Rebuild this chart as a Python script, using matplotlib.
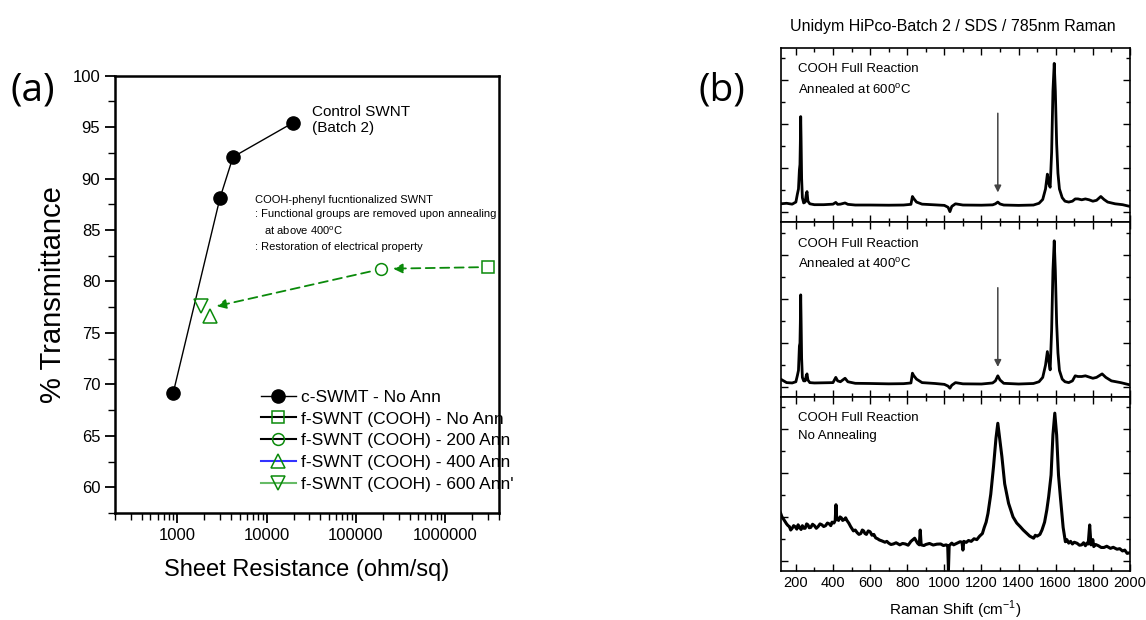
import matplotlib
matplotlib.use('Agg')
import matplotlib.pyplot as plt
from matplotlib.ticker import FixedLocator, MultipleLocator, NullFormatter

# ---- panel (a): transmittance vs sheet resistance ----
ctrl_rs = [900, 3000, 4200, 19500]
ctrl_t = [69.2, 88.1, 92.1, 95.4]

f_labels = ['f-SWNT (COOH) - No Ann', 'f-SWNT (COOH) - 200 Ann',
            'f-SWNT (COOH) - 400 Ann', 'f-SWNT (COOH) - 600 Ann\'']
f_rs = [3.0e6, 1.9e5, 2300, 1850]
f_t = [81.4, 81.2, 76.6, 77.6]
f_markers = ['s', 'o', '^', 'v']
f_linecolors = ['black', 'black', '#3333ff', '#66bb66']

x_ticks = [1000, 10000, 100000, 1000000]
x_ticklabels = ['1000', '10000', '100000', '1000000']

# ---- panel (b): Raman spectra (intensity as % of panel height) ----
shift_600 = [118, 150, 180, 200, 208, 214, 219, 222, 224, 226, 228, 231, 235, 242, 250, 256, 260, 265,
             275, 300, 350, 400, 415, 425, 440, 465, 480, 520, 600, 700, 780, 820, 828, 835, 850,
             880, 950, 1000, 1020, 1030, 1040, 1060, 1100, 1200, 1260, 1275, 1288, 1300, 1320,
             1400, 1480, 1510, 1530, 1545, 1555, 1563, 1570, 1578, 1585, 1592, 1598, 1605, 1612,
             1620, 1635, 1650, 1670, 1690, 1705, 1720, 1740, 1760, 1780, 1800, 1820, 1843, 1860,
             1880, 1920, 1960, 2000]
int_600 = [10.5, 10.8, 10.3, 11.5, 16, 19, 30, 33, 45, 60.5, 48, 25, 14, 11, 11.5, 16, 17.5, 12,
           10.5, 10, 10, 10.3, 11.3, 10.2, 10.3, 11, 10.2, 9.8, 9.8, 9.7, 9.8, 10.2, 14.7, 13.5, 11.5,
           10.3, 9.9, 9.6, 8.5, 6, 9, 10.5, 9.8, 9.7, 9.9, 10.5, 11.5, 10.4, 9.8,
           9.6, 9.8, 10.8, 13, 19, 27.5, 22, 20, 40, 75, 91, 75, 45, 28,
           19, 14, 12, 11.5, 12, 13.3, 13.3, 12.8, 13.3, 12.8, 12, 12.5, 14.7, 13,
           11.5, 10.5, 10, 9]

shift_400 = [118, 150, 180, 200, 208, 214, 219, 222, 224, 226, 228, 231, 235, 242, 250, 256, 260, 265,
             275, 300, 400, 415, 425, 440, 465, 480, 520, 600, 700, 780, 820, 828, 835, 850,
             880, 950, 1000, 1020, 1030, 1040, 1060, 1100, 1200, 1260, 1275, 1288, 1300, 1320,
             1400, 1480, 1510, 1530, 1545, 1555, 1563, 1570, 1578, 1585, 1592, 1598, 1605, 1612,
             1620, 1635, 1650, 1670, 1690, 1705, 1720, 1740, 1760, 1780, 1800, 1820, 1850, 1870,
             1900, 1950, 2000]
int_400 = [10, 8, 7.8, 8.5, 12, 15, 29, 30.6, 42, 58.3, 45, 22, 11, 9, 9, 12, 13, 9.5,
           8, 7.8, 8, 11, 9, 8.5, 10.5, 8.5, 7.6, 7.5, 7.3, 7.4, 7.8, 13.4, 12, 10,
           8, 7.5, 7, 6, 4.8, 6.5, 8, 7.3, 7.2, 7.8, 9, 11.9, 9.5, 7.6,
           7.2, 7.5, 8.5, 11, 18, 25.8, 20, 15.3, 38, 72, 89.3, 72, 42, 25,
           15, 10, 8.5, 8, 9, 11.9, 11.5, 11.5, 11.9, 11.2, 10.5, 11, 13, 11,
           9, 8, 6.7]

shift_none = [118, 125, 135, 150, 158, 165, 172, 180, 188, 195, 205, 212, 220, 228, 235, 243, 250,
              258, 265, 272, 280, 290, 300, 310, 320, 330, 340, 350, 360, 370, 380, 388, 395, 405,
              412, 416, 420, 430, 438, 445, 452, 460, 468, 475, 485, 495, 510, 520, 530, 540, 550,
              558, 565, 572, 580, 590, 600, 610, 620, 630, 640, 650, 665, 680, 690, 700, 712, 725,
              740, 760, 775, 790, 805, 820, 840, 855, 865, 870, 875, 890, 900, 920, 940, 960, 980,
              995, 1010, 1018, 1022, 1026, 1040, 1050, 1060, 1075, 1085, 1095, 1100, 1105, 1118,
              1130, 1145, 1160, 1175, 1190, 1205, 1215, 1225, 1235, 1250, 1265, 1278, 1288, 1298,
              1310, 1325, 1346, 1370, 1390, 1409, 1425, 1440, 1460, 1481, 1490, 1500, 1515, 1526,
              1540, 1552, 1562, 1575, 1585, 1595, 1605, 1615, 1625, 1640, 1652, 1660, 1670, 1680,
              1690, 1700, 1715, 1728, 1740, 1750, 1760, 1768, 1775, 1783, 1790, 1800, 1805, 1815,
              1830, 1845, 1860, 1875, 1895, 1910, 1930, 1945, 1960, 1972, 1985, 2000]
int_none = [33.1, 31, 29.5, 27, 26, 25.5, 23.5, 24.5, 26, 25.5, 24, 26.5, 25, 23.8, 26, 24.5, 24.5,
            27, 26.5, 24.8, 25, 26.8, 26, 24.5, 25.5, 27, 26.5, 25.5, 26, 27.5, 27, 26, 28, 27.5,
            29, 38, 30, 29, 31, 30.5, 29, 29.5, 30.5, 29, 27.5, 25.5, 23, 23.5, 22, 21, 21.5,
            23.5, 23, 21.5, 21, 23, 22.5, 20.5, 21, 19, 18.5, 17.8, 17.2, 16.5, 17, 16, 15.2, 15.5,
            16.2, 15, 15.8, 15.5, 14.8, 17, 18.8, 16, 15, 23.5, 15, 14.6, 15.2, 15.8, 14.9, 15.4, 15.5,
            14.6, 15, 14.5, 0.6, 14.5, 16, 15, 15.5, 16.2, 16.8, 16.5, 12, 17, 16.4,
            17.5, 17, 18.5, 18, 20, 21.5, 25, 28, 33, 44, 60, 76, 84.7, 76,
            65.6, 50, 38.8, 31, 27.5, 25.4, 23.5, 22, 20, 18.8, 20.5, 20, 21, 23.5,
            28, 35, 42.6, 55, 78, 90.5, 78, 55, 42.6, 25, 16.8, 18, 16, 17,
            15.5, 16.5, 15.9, 14.8, 15, 16.2, 14.5, 16, 15.5, 26.4, 15, 18, 14, 15.2,
            14.5, 13.5, 13.5, 14.2, 13, 13.6, 12.5, 12.8, 11.5, 12, 10.1, 10.5]

panel_text = ['COOH Full Reaction\nAnnealed at 600$^{\\mathrm{o}}$C',
              'COOH Full Reaction\nAnnealed at 400$^{\\mathrm{o}}$C',
              'COOH Full Reaction\nNo Annealing']
d_band = 1288

plt.rcParams['font.family'] = ['Liberation Sans', 'DejaVu Sans']
plt.rcParams['mathtext.fontset'] = 'custom'
plt.rcParams['mathtext.rm'] = 'Liberation Sans'
green = '#0a8a0a'

fig = plt.figure(figsize=(11.46, 6.2), dpi=100)

# ---------------- (a) ----------------
ax = fig.add_axes([0.1003, 0.1726, 0.3351, 0.7053])
ax.plot(ctrl_rs, ctrl_t, color='black', lw=1, marker='o', ms=9.5,
        mfc='black', mec='black', label='c-SWMT - No Ann', zorder=3)
for rs, t, m, lc, lab in zip(f_rs, f_t, f_markers, f_linecolors, f_labels):
    ax.plot([rs], [t], color=lc, lw=1.5, ls='-', marker=m, ms=10 if m in '^v' else 8.5,
            mfc='none', mec=green, mew=1.1, label=lab, zorder=4)

arrow_kw = dict(arrowstyle='-|>', color=green, lw=1.3, ls=(0, (5, 3)), mutation_scale=14)
ax.annotate('', xy=(2.6e5, f_t[1] + 0.05), xytext=(f_rs[0], f_t[0]),
            arrowprops=dict(shrinkA=7, shrinkB=0, **arrow_kw))
ax.annotate('', xy=(2750, 77.6), xytext=(f_rs[1], f_t[1]),
            arrowprops=dict(shrinkA=8, shrinkB=0, **arrow_kw))

ax.set_xscale('log')
ax.set_xlim(200, 4e6)
ax.set_ylim(57.5, 100)
ax.xaxis.set_major_locator(FixedLocator(x_ticks))
ax.set_xticklabels(x_ticklabels)
ax.xaxis.set_minor_locator(FixedLocator([m * 10 ** e for e in range(2, 7) for m in range(2, 10)]))
ax.xaxis.set_minor_formatter(NullFormatter())
ax.set_yticks([60, 65, 70, 75, 80, 85, 90, 95, 100])
ax.yaxis.set_minor_locator(MultipleLocator(2.5))
ax.tick_params(axis='both', which='major', direction='out', length=7, width=1.3, labelsize=12)
ax.tick_params(axis='both', which='minor', direction='out', length=5, width=1.0)
for s in ax.spines.values():
    s.set_linewidth(1.8)

ax.set_xlabel('Sheet Resistance (ohm/sq)', fontsize=17, labelpad=12)
ax.set_ylabel('% Transmittance', fontsize=21, labelpad=4)

ax.text(0.512, 0.898, 'Control SWNT\n(Batch 2)', transform=ax.transAxes, fontsize=11,
        va='center', linespacing=1.15)
ax.text(0.366, 0.728,
        'COOH-phenyl fucntionalized SWNT\n: Functional groups are removed upon annealing\n'
        '   at above 400$^{\\mathrm{o}}$C\n: Restoration of electrical property',
        transform=ax.transAxes, fontsize=8, va='top', linespacing=1.55)

leg = ax.legend(loc='upper left', bbox_to_anchor=(0.38, 0.282), frameon=False,
                prop={'size': 12.5}, handlelength=2.0, handletextpad=0.3,
                labelspacing=0.38, borderaxespad=0, borderpad=0)

fig.text(33 / 1146, 1 - 90 / 620, '(a)', fontsize=28, family='Open Sans', ha='center', va='center')
fig.text(722 / 1146, 1 - 90 / 620, '(b)', fontsize=28, family='Open Sans', ha='center', va='center')

# ---------------- (b) ----------------
left, width, bottom, total = 0.6812, 0.3048, 0.079, 0.8441
h = total / 3
spectra = [(shift_600, int_600), (shift_400, int_400), (shift_none, int_none)]
for i, (sx, sy) in enumerate(spectra):
    bx = fig.add_axes([left, bottom + (2 - i) * h, width, h])
    bx.plot(sx, sy, color='black', lw=2.0 if i < 2 else 2.2)
    bx.set_xlim(118, 2000)
    bx.set_ylim(0, 100)
    bx.xaxis.set_major_locator(MultipleLocator(200))
    bx.xaxis.set_minor_locator(MultipleLocator(100))
    bx.yaxis.set_major_locator(FixedLocator([5.6, 30.8, 56.0, 81.2]))
    bx.yaxis.set_minor_locator(FixedLocator([18.2, 43.4, 68.6, 93.8]))
    bx.tick_params(which='both', direction='in', top=True, right=True, labelleft=False,
                   labelsize=10.5)
    bx.tick_params(which='major', length=5, width=1)
    bx.tick_params(which='minor', length=3, width=1)
    if i < 2:
        bx.tick_params(labelbottom=False)
        bx.annotate('', xy=(d_band, 17), xytext=(d_band, 62.4),
                    arrowprops=dict(arrowstyle='-|>', color='#444444', lw=1.1,
                                    mutation_scale=10, shrinkA=0, shrinkB=0))
    else:
        bx.set_xlabel('Raman Shift (cm$^{-1}$)', fontsize=11, labelpad=6)
    for s in bx.spines.values():
        s.set_linewidth(1.2)
    bx.text(0.05, 0.91, panel_text[i], transform=bx.transAxes, fontsize=9.5,
            va='top', linespacing=1.65)

fig.text(953 / 1146, 1 - 26.7 / 620, 'Unidym HiPco-Batch 2 / SDS / 785nm Raman',
         fontsize=11.5, ha='center', va='center')

fig.savefig('out.png', dpi=100)
